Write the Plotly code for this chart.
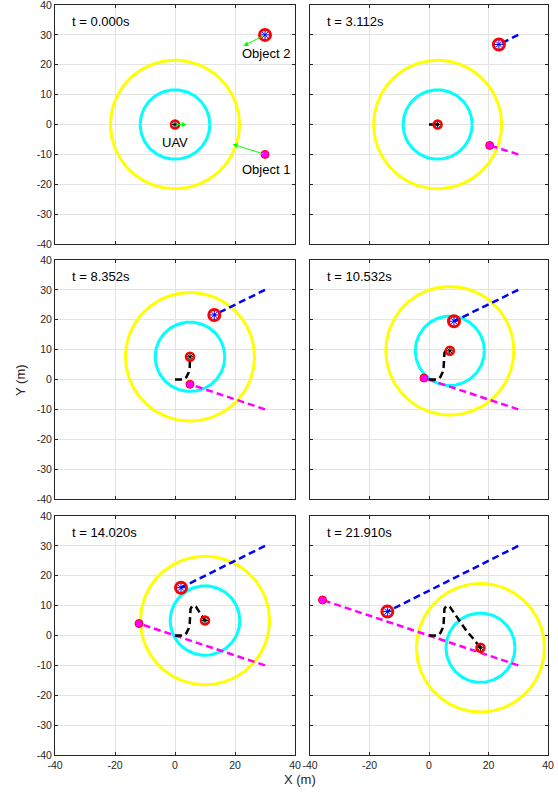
import numpy as np
import plotly.graph_objects as go

# ---- data ----
TIMES = ["0.000", "3.112", "8.352", "10.532", "14.020", "21.910"]
UAV_X = [0.0, 2.9, 5.0, 7.0, 10.0, 17.3]
UAV_Y = [0.0, 0.0, 7.6, 9.6, 5.0, -4.1]
UAV_PATH_X = [0, 1.5, 2.9, 3.8, 4.5, 4.9, 5.0, 5.2, 5.8, 6.6, 7.0, 8.0, 9.0, 10.0, 12.5, 15.0, 17.3]
UAV_PATH_Y = [0, 0, 0, 0.8, 2.2, 4.0, 7.6, 9.0, 9.8, 9.9, 9.6, 8.2, 6.6, 5.0, 1.7, -1.2, -4.1]
TRAIL_END = [0, 2, 6, 10, 13, 16]
OBJ1_X = [30.0, 20.4, 5.0, -1.7, -12.0, -35.8]
OBJ1_Y = [-10.0, -7.0, -1.6, 0.5, 4.0, 11.9]
OBJ2_X = [30.0, 23.5, 13.1, 8.4, 2.0, -14.0]
OBJ2_Y = [30.0, 26.8, 21.6, 19.5, 16.0, 8.0]
R_INNER = 11.6
R_OUTER = 21.5
# arrows at t=0 (tail -> head)
ARROWS = [((0, 0), (3.9, 0)), ((30, 30), (22.8, 26.3)), ((30, -10), (19.2, -6.6))]
LABELS = [("UAV", 0, -6), ("Object 2", 30.2, 23.8), ("Object 1", 30.2, -15.2)]

XTICKS = [-40, -20, 0, 20, 40]
YTICKS = [-40, -30, -20, -10, 0, 10, 20, 30, 40]

W, H = 558, 794
COLS = [(55, 295), (310, 548)]
ROWS = [(5, 244), (260, 499), (516, 755)]

FONT = "Liberation Sans, Arial, Helvetica, sans-serif"
AXC = "#262626"

fig = go.Figure()
theta = np.linspace(0, 2 * np.pi, 181)

for k in range(6):
    r, c = divmod(k, 2)
    xa = "x" if k == 0 else f"x{k+1}"
    ya = "y" if k == 0 else f"y{k+1}"
    cx, cy = UAV_X[k], UAV_Y[k]
    common = dict(xaxis=xa, yaxis=ya, showlegend=False, hoverinfo="skip")
    # circles
    fig.add_trace(go.Scatter(x=cx + R_OUTER * np.cos(theta), y=cy + R_OUTER * np.sin(theta),
                             mode="lines", line=dict(color="#ffff00", width=3), **common))
    fig.add_trace(go.Scatter(x=cx + R_INNER * np.cos(theta), y=cy + R_INNER * np.sin(theta),
                             mode="lines", line=dict(color="#00ffff", width=3), **common))
    # trails
    if k > 0:
        fig.add_trace(go.Scatter(x=[OBJ1_X[0], OBJ1_X[k]], y=[OBJ1_Y[0], OBJ1_Y[k]], mode="lines",
                                 line=dict(color="#ff00ff", width=2.5, dash="7px,4px"), **common))
        fig.add_trace(go.Scatter(x=[OBJ2_X[0], OBJ2_X[k]], y=[OBJ2_Y[0], OBJ2_Y[k]], mode="lines",
                                 line=dict(color="#0000ff", width=2.5, dash="7px,4px"), **common))
        n = TRAIL_END[k] + 1
        fig.add_trace(go.Scatter(x=UAV_PATH_X[:n], y=UAV_PATH_Y[:n], mode="lines",
                                 line=dict(color="#000000", width=2.5, dash="7px,4px"), **common))
    # object 1
    fig.add_trace(go.Scatter(x=[OBJ1_X[k]], y=[OBJ1_Y[k]], mode="markers",
                             marker=dict(symbol="circle", size=8, color="#ff00ff",
                                         line=dict(color="#ff0000", width=1)), **common))
    # object 2
    fig.add_trace(go.Scatter(x=[OBJ2_X[k]], y=[OBJ2_Y[k]], mode="markers",
                             marker=dict(symbol="circle-open", size=11, color="#ff0000",
                                         line=dict(color="#ff0000", width=3)), **common))
    fig.add_trace(go.Scatter(x=[OBJ2_X[k]], y=[OBJ2_Y[k]], mode="markers",
                             marker=dict(symbol="asterisk-open", size=7, color="#0000ff",
                                         line=dict(color="#0000ff", width=1)), **common))
    # UAV
    fig.add_trace(go.Scatter(x=[cx], y=[cy], mode="markers",
                             marker=dict(symbol="circle-open", size=8, color="#ff0000",
                                         line=dict(color="#ff0000", width=2.5)), **common))
    fig.add_trace(go.Scatter(x=[cx], y=[cy], mode="markers",
                             marker=dict(symbol="asterisk-open", size=5, color="#000000",
                                         line=dict(color="#000000", width=1)), **common))

    x0, x1 = COLS[c]
    y0, y1 = ROWS[r]
    axis_common = dict(showline=True, linecolor=AXC, linewidth=1, mirror="allticks",
                       ticks="inside", ticklen=3, tickcolor=AXC, showgrid=True,
                       gridcolor="#e3e3e3", gridwidth=1, zeroline=False,
                       tickfont=dict(family=FONT, size=10.5, color=AXC), fixedrange=True,
                       automargin=False, ticklabeloverflow="allow")
    fig.update_layout({
        ("xaxis" if k == 0 else f"xaxis{k+1}"): dict(
            domain=[x0 / W, x1 / W], range=[-40, 40], anchor=ya,
            tickvals=XTICKS, ticktext=[str(v) for v in XTICKS],
            showticklabels=(r == 2), **axis_common),
        ("yaxis" if k == 0 else f"yaxis{k+1}"): dict(
            domain=[1 - y1 / H, 1 - y0 / H], range=[-40, 40], anchor=xa,
            tickvals=YTICKS, ticktext=[str(v) for v in YTICKS],
            showticklabels=(c == 0), **axis_common),
    })
    fig.add_annotation(x=-35, y=34.6, xref=xa, yref=ya, text=f"t = {TIMES[k]}s",
                       showarrow=False, xanchor="left", yanchor="middle",
                       font=dict(family=FONT, size=13, color="#000000"))

# arrows and labels (first panel)
for (tx, ty), (hx, hy) in ARROWS:
    fig.add_annotation(x=hx, y=hy, ax=tx, ay=ty, xref="x", yref="y", axref="x", ayref="y",
                       text="", showarrow=True, arrowhead=2, arrowsize=1, arrowwidth=1,
                       arrowcolor="#00ff00", standoff=0, startstandoff=0)
for txt, lx, ly in LABELS:
    fig.add_annotation(x=lx, y=ly, xref="x", yref="y", text=txt, showarrow=False,
                       xanchor="center", yanchor="middle",
                       font=dict(family=FONT, size=13, color="#000000"))

fig.add_annotation(x=300 / W, y=1 - 779 / H, xref="paper", yref="paper", text="X (m)",
                   showarrow=False, xanchor="center", yanchor="middle",
                   font=dict(family=FONT, size=13, color=AXC))
fig.add_annotation(x=20 / W, y=1 - 380 / H, xref="paper", yref="paper", text="Y (m)",
                   showarrow=False, xanchor="center", yanchor="middle", textangle=-90,
                   font=dict(family=FONT, size=13, color=AXC))

fig.update_layout(width=W, height=H, margin=dict(l=0, r=0, t=0, b=0, pad=0, autoexpand=False),
                  paper_bgcolor="white", plot_bgcolor="white", showlegend=False)

fig.write_html("out.html", config={"displayModeBar": False},
               post_script="document.body.style.margin='0';document.body.style.padding='0';"
                           "document.documentElement.style.overflow='hidden';")
